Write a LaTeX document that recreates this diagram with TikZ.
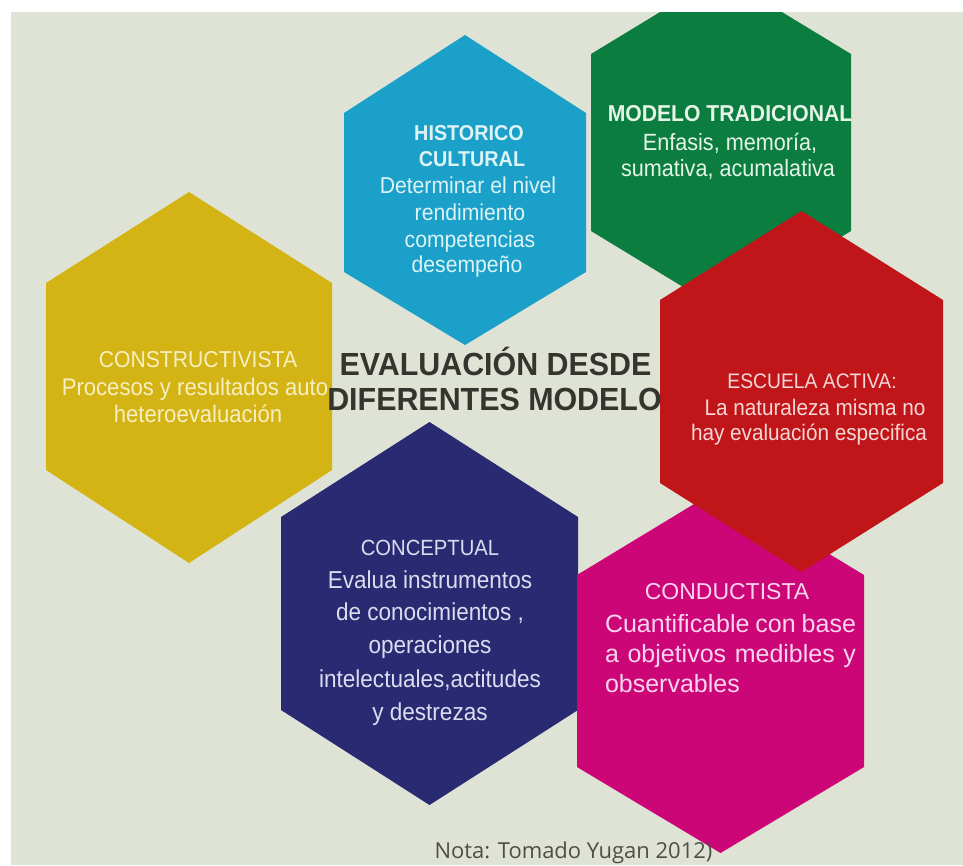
\documentclass[tikz,border=0pt]{standalone}
\usepackage{fontspec}
\setmainfont{Liberation Sans}
\newfontfamily\nar[FakeStretch=0.92]{Liberation Sans}
\newfontfamily\titlef[FakeStretch=0.95]{Liberation Sans}
\newfontfamily\notaf{Open Sans}
\definecolor{bgc}{HTML}{DFE3D5}
\definecolor{hyel}{HTML}{D4B414}
\definecolor{hblu}{HTML}{1BA0CA}
\definecolor{hgrn}{HTML}{0B7E3F}
\definecolor{hred}{HTML}{C11619}
\definecolor{hnav}{HTML}{2A2A72}
\definecolor{hmag}{HTML}{CC0677}
\definecolor{tyel}{HTML}{F6EFC2}
\definecolor{tblu}{HTML}{DDF3F5}
\definecolor{tgrn}{HTML}{E6F4E8}
\definecolor{tred}{HTML}{F6D6D6}
\definecolor{tnav}{HTML}{DCDCF0}
\definecolor{tmag}{HTML}{FAD4EE}
\definecolor{ttl}{HTML}{35352F}
\definecolor{tnota}{HTML}{4E4E46}
% cx, top apex, side top, side bottom, bottom apex, half-width, colour
\newcommand\hexa[7]{\fill[#7] (#1,#2) -- (#1+#6,#3) -- (#1+#6,#4) -- (#1,#5) -- (#1-#6,#4) -- (#1-#6,#3) -- cycle;}
\newcommand\fs[1]{\fontsize{#1}{#1}\selectfont}
\tikzset{
  ln/.style={anchor=base, inner sep=0pt, outer sep=0pt},
  yl/.style={ln, text=tyel, font=\nar\fs{24}},
  yh/.style={ln, text=tyel, font=\nar\fs{23}},
  bl/.style={ln, text=tblu, font=\nar\fs{23}},
  bh/.style={ln, text=tblu, font=\nar\bfseries\fs{21.5}},
  gl/.style={ln, text=tgrn, font=\nar\fs{23.5}},
  gh/.style={ln, text=tgrn, font=\nar\bfseries\fs{23}},
  rl/.style={ln, text=tred, font=\nar\fs{22.5}},
  rh/.style={ln, text=tred, font=\nar\fs{21}},
  nl/.style={ln, text=tnav, font=\nar\fs{24.5}},
  nh/.style={ln, text=tnav, font=\nar\fs{22}},
  ml/.style={ln, anchor=base west, text=tmag, font=\fs{25}},
  mh/.style={ln, text=tmag, font=\fs{23}},
  ttlstyle/.style={ln, text=ttl, font=\titlef\bfseries\fs{32}},
}
\begin{document}
\begin{tikzpicture}[x=1pt,y=-1pt]
\useasboundingbox (0,0) rectangle (963,865);
\fill[white] (0,0) rectangle (963,865);
\fill[bgc] (11,12) rectangle (963,865);
\begin{scope}
\clip (11,12) rectangle (963,865);
\hexa{189}{192}{283}{470}{563}{143}{hyel}
\hexa{465}{35}{113}{272}{345}{121}{hblu}
\hexa{721}{-25}{54}{231}{310}{130}{hgrn}
\hexa{429.5}{422}{517}{710}{805}{148.5}{hnav}
\hexa{720.5}{488}{575}{767}{853}{143.5}{hmag}
\hexa{801.5}{211}{300}{483}{572}{141.5}{hred}
\end{scope}
% Constructivista
\node[yh] (y1) at (198,367) {CONSTRUCTIVISTA};
\node[yl] (y2) at (195,395) {Procesos y resultados auto};
\node[yl] (y3) at (198,422) {heteroevaluación};
% Historico cultural
\node[bh] (b1) at (469,140) {HISTORICO};
\node[bh] (b2) at (472,166) {CULTURAL};
\node[bl] (b3) at (468,193) {Determinar el nivel};
\node[bl] (b4) at (470,220) {rendimiento};
\node[bl] (b5) at (470,247) {competencias};
\node[bl] (b6) at (467,272) {desempeño};
% Modelo tradicional
\node[gh] (g1) at (730,121) {MODELO TRADICIONAL};
\node[gl] (g2) at (730,150) {Enfasis, memoría,};
\node[gl] (g3) at (728,176) {sumativa, acumalativa};
% Escuela activa
\node[rh] (r1) at (812,388) {ESCUELA ACTIVA:};
\node[rl] (r2) at (815,415) {La naturaleza misma no};
\node[rl] (r3) at (809,440) {hay evaluación especifica};
% Conceptual
\node[nh] (n1) at (430,555) {CONCEPTUAL};
\node[nl] (n2) at (430,588) {Evalua instrumentos};
\node[nl] (n3) at (430,620) {de conocimientos ,};
\node[nl] (n4) at (430,653) {operaciones};
\node[nl] (n5) at (430,687) {intelectuales,actitudes};
\node[nl] (n6) at (430,720) {y destrezas};
% Conductista
\node[mh] (m1) at (727,599) {CONDUCTISTA};
\node[ml] (m2) at (605,632) {\makebox[251pt][s]{Cuantificable con base}};
\node[ml] (m3) at (605,662) {\makebox[251pt][s]{a objetivos medibles y}};
\node[ml] (m4) at (605,692) {observables};
% Title
\node[ttlstyle] (t1) at (495.5,375) {EVALUACIÓN DESDE};
\node[ttlstyle] (t2) at (494.5,410) {DIFERENTES MODELO};
% Nota
\node[ln, text=tnota, font=\notaf\fs{22}] (nota) at (573.5,858) {Nota: Tomado Yugan 2012)};
\end{tikzpicture}
\end{document}
